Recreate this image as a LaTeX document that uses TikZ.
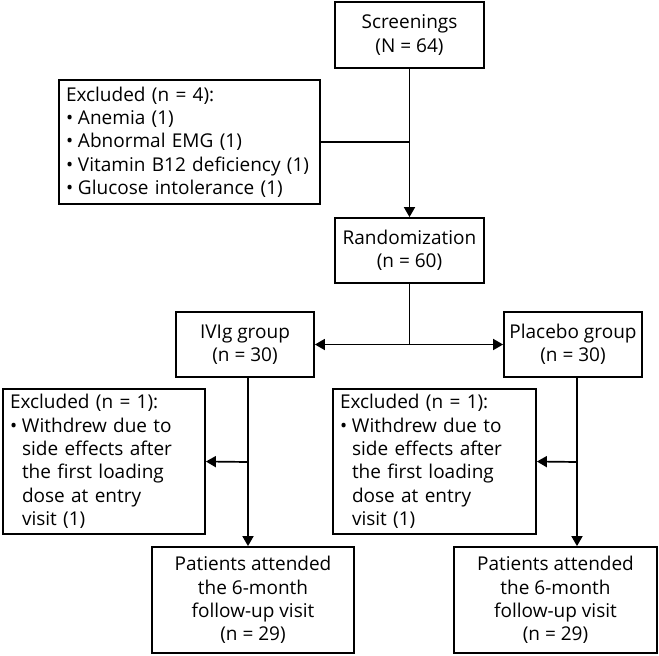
\documentclass[tikz,border=0pt]{standalone}
\usepackage{fontspec}
\setmainfont{Open Sans}
\usetikzlibrary{arrows.meta}
\newcommand{\bitem}{\makebox[12pt][l]{•}}
\newcommand{\bcont}{\hspace*{12pt}}
\begin{document}
\begin{tikzpicture}[x=1pt,y=-1pt,
  box/.style={draw, line width=1.8pt, inner sep=0pt, font=\fontsize{19}{23.3}\selectfont, align=center},
  lbox/.style={box, align=left, inner xsep=7pt},
  conn/.style={line width=1.7pt},
  arr/.style={conn, -{Triangle[length=10pt,width=11pt]}}]
\useasboundingbox (0,0) rectangle (659,656);
\node[box, minimum width=149pt, minimum height=66pt] (scr) at (409.5,35) {Screenings\\(N = 64)};
\node[lbox, text width=247pt, minimum height=124pt] (exc1) at (189.5,142) {Excluded (n = 4):\\\bitem Anemia (1)\\\bitem Abnormal EMG (1)\\\bitem Vitamin B12 deficiency (1)\\\bitem Glucose intolerance (1)};
\node[box, minimum width=149pt, minimum height=65pt] (rand) at (409.5,250.5) {Randomization\\(n = 60)};
\node[box, minimum width=138pt, minimum height=65pt] (ivig) at (245,344.5) {IVIg group\\(n = 30)};
\node[box, minimum width=138pt, minimum height=65pt] (plac) at (573,344.5) {Placebo group\\(n = 30)};
\node[lbox, text width=188pt, minimum height=145pt] (exc2) at (104,461.5) {Excluded (n = 1):\\\bitem Withdrew due to\\\bcont side effects after\\\bcont the first loading\\\bcont dose at entry\\\bcont visit (1)};
\node[lbox, text width=189pt, minimum height=145pt] (exc3) at (434.5,461.5) {Excluded (n = 1):\\\bitem Withdrew due to\\\bcont side effects after\\\bcont the first loading\\\bcont dose at entry\\\bcont visit (1)};
\node[box, minimum width=202pt, minimum height=106pt] (pat1) at (253,600) {Patients attended\\the 6-month\\follow-up visit\\(n = 29)};
\node[box, minimum width=203pt, minimum height=106pt] (pat2) at (555.5,600) {Patients attended\\the 6-month\\follow-up visit\\(n = 29)};
\coordinate (split) at (409.5,344.5);
\coordinate (c1) at (248,462);
\coordinate (c2) at (577,462);
\draw[arr] (scr.south) -- (rand.north);
\draw[conn] (exc1.east) -- (exc1.east -| scr.south);
\draw[conn] (rand.south) -- (split);
\draw[arr] (split) -- (ivig.east);
\draw[arr] (split) -- (plac.west);
\draw[arr] (c1 |- ivig.south) -- (c1 |- pat1.north);
\draw[arr] (c1) -- (exc2.east);
\draw[arr] (c2 |- plac.south) -- (c2 |- pat2.north);
\draw[arr] (c2) -- (exc3.east);
\end{tikzpicture}
\end{document}
